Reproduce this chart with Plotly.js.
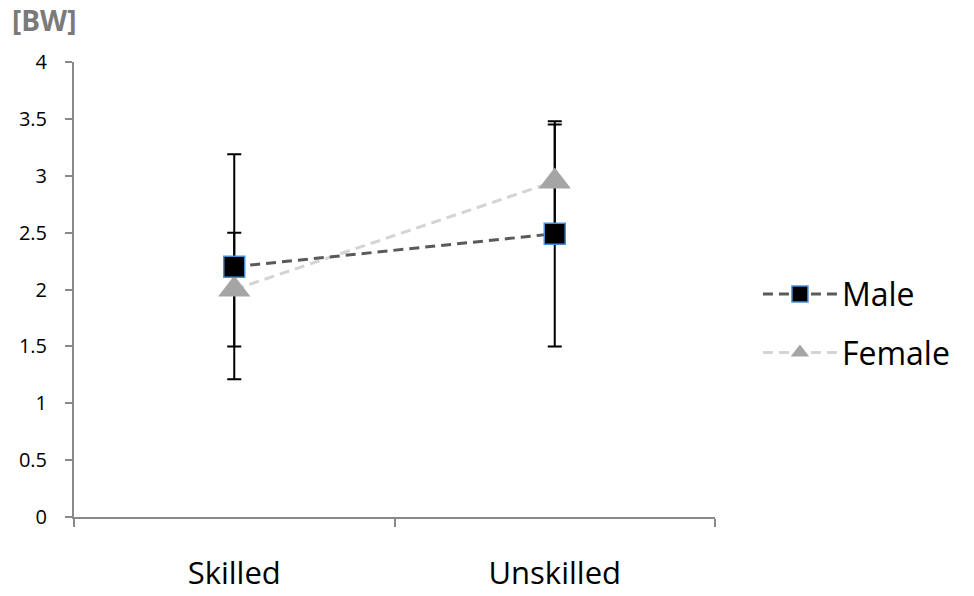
<!DOCTYPE html>
<html>
<head>
<meta charset="utf-8">
<script src="https://cdn.plot.ly/plotly-3.0.1.min.js"></script>
<style>html,body{margin:0;padding:0;background:#fff;}#chart{width:974px;height:596px;}</style>
</head>
<body>
<div id="chart"></div>
<script>
var categories = ['Skilled', 'Unskilled'];
var maleValues = [2.2, 2.49];
var maleErrors = [0.99, 0.99];
var femaleValues = [2.0, 2.95];
var femaleErrors = [0.5, 0.5];
var yTickValues = [0, 0.5, 1, 1.5, 2, 2.5, 3, 3.5, 4];
var yTickLabels = ['0', '0.5', '1', '1.5', '2', '2.5', '3', '3.5', '4'];

var errStyle = function (arr) {
  return {type: 'data', array: arr, visible: true, color: '#000000', thickness: 2, width: 7};
};

var traces = [
  {x: categories, y: femaleValues, mode: 'markers', marker: {opacity: 0, size: 1},
   error_y: errStyle(femaleErrors), showlegend: false, hoverinfo: 'skip'},
  {x: categories, y: maleValues, mode: 'markers', marker: {opacity: 0, size: 1},
   error_y: errStyle(maleErrors), showlegend: false, hoverinfo: 'skip'},
  {x: categories, y: femaleValues, name: 'Female', mode: 'lines+markers',
   line: {color: '#d4d4d4', width: 3, dash: '10px,6px'},
   marker: {symbol: 'triangle-up', size: 28, color: '#a5a5a5', line: {width: 0}},
   legendgroup: 'f', legendrank: 2},
  {x: categories, y: maleValues, name: 'Male', mode: 'lines+markers',
   line: {color: '#5a5a5a', width: 3, dash: '10px,6px'},
   marker: {symbol: 'square', size: 21, color: '#000000', line: {width: 1.5, color: '#4a8fd6'}},
   legendgroup: 'm', legendrank: 1}
];

var layout = {
  width: 974, height: 596,
  margin: {l: 74, r: 259, t: 62, b: 79},
  paper_bgcolor: '#ffffff', plot_bgcolor: '#ffffff',
  font: {family: 'Open Sans, Noto Sans, sans-serif', color: '#000000'},
  xaxis: {
    type: 'category', range: [-0.5, 1.5], tickson: 'boundaries',
    showgrid: false, zeroline: false, showline: true, linecolor: '#898989', linewidth: 2,
    ticks: 'outside', ticklen: 8, tickcolor: '#898989', tickwidth: 2,
    tickfont: {size: 31, color: '#000000'}, ticklabelstandoff: 28, fixedrange: true
  },
  yaxis: {
    range: [0, 4], tickvals: yTickValues, ticktext: yTickLabels,
    showgrid: false, zeroline: false, showline: true, linecolor: '#898989', linewidth: 2,
    ticks: 'outside', ticklen: 7, tickcolor: '#898989', tickwidth: 2,
    tickfont: {size: 20, color: '#000000'}, ticklabelstandoff: 14, fixedrange: true
  },
  legend: {
    x: 1.067, y: 0.425, xanchor: 'left', yanchor: 'middle',
    font: {size: 32, color: '#000000'}, tracegroupgap: 14, itemwidth: 74,
    bgcolor: 'rgba(0,0,0,0)'
  },
  annotations: [
    {text: '<b>[BW]</b>', xref: 'paper', yref: 'paper', x: -0.1, y: 1.092, xanchor: 'left', yanchor: 'middle',
     showarrow: false, font: {size: 28, color: '#7a7a7a'}}
  ],
  showlegend: true
};

Plotly.newPlot('chart', traces, layout, {displayModeBar: false, staticPlot: true});
</script>
</body>
</html>
